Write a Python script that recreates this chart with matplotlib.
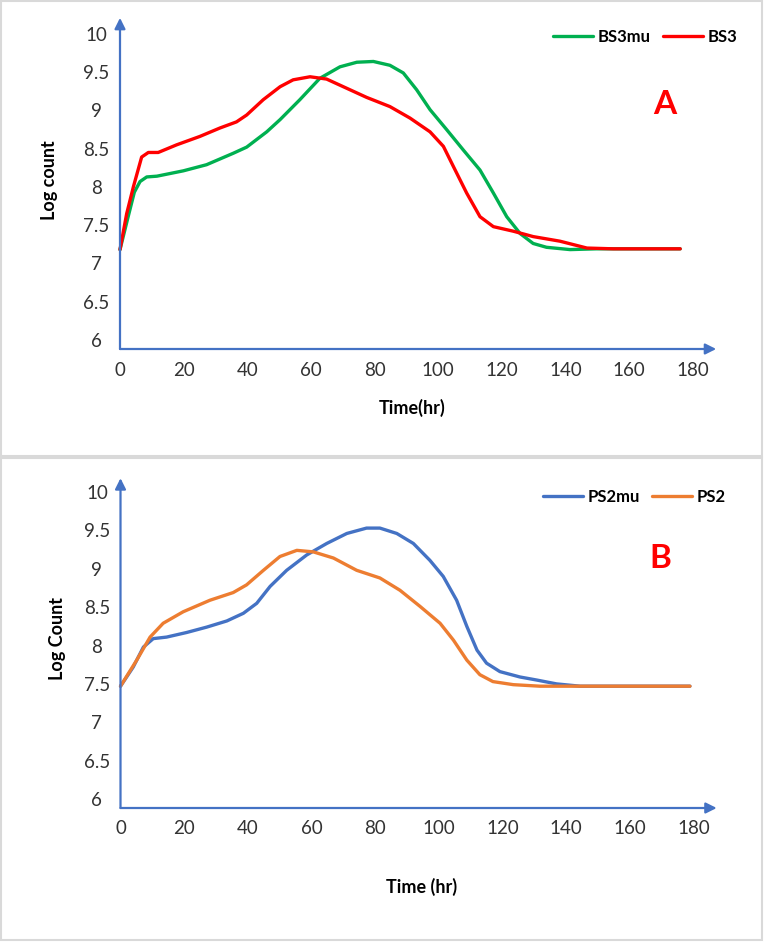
import matplotlib
matplotlib.use("Agg")
import matplotlib.pyplot as plt
from matplotlib.patches import Rectangle

plt.rcParams['font.family'] = ['Lato', 'DejaVu Sans']

# panel A data
bs3mu_t = [0, 2.5, 4.5, 6.3, 8.4, 11.6, 19.9, 27.2, 35.6, 39.8, 46.1, 50.3, 56.5, 62.8, 69.1, 74.4,
           79.6, 84.8, 89, 93.2, 97.4, 102.6, 107.9, 113.1, 117.3, 121.5, 125.7, 129.8, 134, 141.4,
           149.8, 160, 176]
bs3mu = [7.18, 7.6, 7.93, 8.07, 8.13, 8.14, 8.21, 8.29, 8.44, 8.52, 8.72, 8.88, 9.14, 9.42, 9.57, 9.63,
         9.64, 9.59, 9.49, 9.27, 9.01, 8.75, 8.48, 8.22, 7.92, 7.61, 7.39, 7.26, 7.21, 7.18,
         7.19, 7.19, 7.19]
bs3_t = [0, 2.1, 4.2, 6.8, 8.9, 12, 17.8, 25.1, 31.4, 36.6, 39.8, 45, 50.3, 54.4, 59.7, 64.9, 71.2,
         77.5, 84.8, 91.1, 97.4, 101.6, 104.7, 108.9, 113.1, 117.3, 123.6, 129.8, 138.2, 146.7, 155, 176]
bs3 = [7.18, 7.65, 8.0, 8.39, 8.45, 8.45, 8.55, 8.66, 8.77, 8.85, 8.94, 9.14, 9.31, 9.40, 9.44, 9.41, 9.29,
       9.17, 9.05, 8.90, 8.72, 8.53, 8.27, 7.92, 7.61, 7.48, 7.42, 7.35, 7.29, 7.2, 7.19, 7.19]

# panel B data
ps2mu_t = [0, 4.0, 7.2, 10.3, 14.5, 20.8, 27.1, 33.4, 38.6, 42.8, 47, 52.2, 58.5, 64.8, 71.1, 77.3,
           81.5, 86.8, 92, 97.2, 101.4, 105.6, 108.8, 112, 115, 119.2, 125.5, 130.8, 137, 144.4,
           154.8, 178.9]
ps2mu = [7.47, 7.72, 7.98, 8.09, 8.11, 8.17, 8.24, 8.32, 8.42, 8.55, 8.77, 8.98, 9.18, 9.33, 9.46, 9.53,
         9.53, 9.46, 9.33, 9.11, 8.90, 8.59, 8.25, 7.94, 7.77, 7.66, 7.59, 7.55, 7.50, 7.47,
         7.47, 7.47]
ps2_t = [0, 5.1, 9.3, 13.4, 19.7, 28.1, 35.4, 39.6, 44.9, 50.1, 55.4, 60.6, 66.9, 74.2, 81.5, 87.8,
         94.1, 100.4, 104.6, 108.8, 112.9, 117, 123.4, 131.8, 144.4, 178.9]
ps2 = [7.47, 7.81, 8.11, 8.29, 8.44, 8.59, 8.69, 8.79, 8.98, 9.16, 9.24, 9.22, 9.14, 8.98, 8.88, 8.72,
       8.51, 8.29, 8.07, 7.81, 7.62, 7.53, 7.49, 7.47, 7.47, 7.47]

xticks = [0, 20, 40, 60, 80, 100, 120, 140, 160, 180]
yticks = [6, 6.5, 7, 7.5, 8, 8.5, 9, 9.5, 10]
ytick_labels = ['6', '6.5', '7', '7.5', '8', '8.5', '9', '9.5', '10']

W, H = 765, 942
AXIS_BLUE = '#4472C4'

fig = plt.figure(figsize=(W / 100, H / 100), dpi=100)

# grey frames round each panel
fig.patches.append(Rectangle((1 / W, 1 - 456 / H), 761 / W, 455 / H, transform=fig.transFigure,
                             fill=False, edgecolor='#d9d9d9', lw=1.5))
fig.patches.append(Rectangle((1 / W, 1 - 940 / H), 761 / W, 482 / H, transform=fig.transFigure,
                             fill=False, edgecolor='#d9d9d9', lw=1.5))


def panel(left, bottom_px, top_px, ylo, series, names, colors, ylabel, ylabel_x, xlabel, xlabel_xy,
          leg_xy, letter, letter_xy, ytip):
    ax = fig.add_axes([left / W, 1 - bottom_px / H, 600 / W, (bottom_px - top_px) / H])
    ax.set_xlim(0, 188.5)
    ax.set_ylim(ylo, 10.3)
    for s in ax.spines.values():
        s.set_visible(False)

    for (t, v), name, c in zip(series, names, colors):
        ax.plot(t, v, color=c, lw=2.4, label=name, solid_joinstyle='round',
                solid_capstyle='round', clip_on=False)

    ax.set_xticks(xticks)
    ax.set_yticks(yticks)
    ax.set_yticklabels(ytick_labels)
    ax.tick_params(length=0, labelsize=13.5, colors='#333333')
    ax.tick_params(axis='y', pad=17)
    ax.tick_params(axis='x', pad=9)
    for lab in ax.get_yticklabels():
        lab.set_horizontalalignment('center')

    # axis arrows
    arrow = dict(arrowstyle='-|>', color=AXIS_BLUE, lw=1.6, mutation_scale=16, shrinkA=0, shrinkB=0)
    ax.annotate('', xy=(0, ytip), xytext=(0, ylo), arrowprops=arrow, annotation_clip=False)
    ax.annotate('', xy=(187.3, ylo), xytext=(0, ylo), arrowprops=arrow, annotation_clip=False)

    fig.text(ylabel_x / W, 1 - (top_px + bottom_px) / 2 / H, ylabel, rotation=90,
             ha='center', va='center', fontsize=13, fontweight='bold')
    fig.text(xlabel_xy[0] / W, 1 - xlabel_xy[1] / H, xlabel, ha='center', va='center',
             fontsize=13, fontweight='bold')
    fig.text(letter_xy[0] / W, 1 - letter_xy[1] / H, letter, ha='center', va='center',
             fontsize=24, fontweight='bold', color='#FF0000')

    ax.legend(loc='center left', bbox_to_anchor=(leg_xy[0] / W, 1 - leg_xy[1] / H),
              bbox_transform=fig.transFigure, ncol=2, frameon=False, borderpad=0, borderaxespad=0,
              handlelength=2.4, handletextpad=0.3, columnspacing=0.7,
              prop={'weight': 'bold', 'size': 12})
    return ax


panel(120, 349, 11, 5.88,
      [(bs3mu_t, bs3mu), (bs3_t, bs3)], ['BS3mu', 'BS3'], ['#00B050', '#FF0000'],
      'Log count', 50, 'Time(hr)', (412, 408), (553, 37), 'A', (665, 105), 10.21)

panel(120.5, 808, 469, 5.883,
      [(ps2mu_t, ps2mu), (ps2_t, ps2)], ['PS2mu', 'PS2'], ['#4472C4', '#ED7D31'],
      'Log Count', 57, 'Time (hr)', (422, 887), (543, 497), 'B', (660, 558), 10.18)

fig.savefig('out.png', dpi=100)
